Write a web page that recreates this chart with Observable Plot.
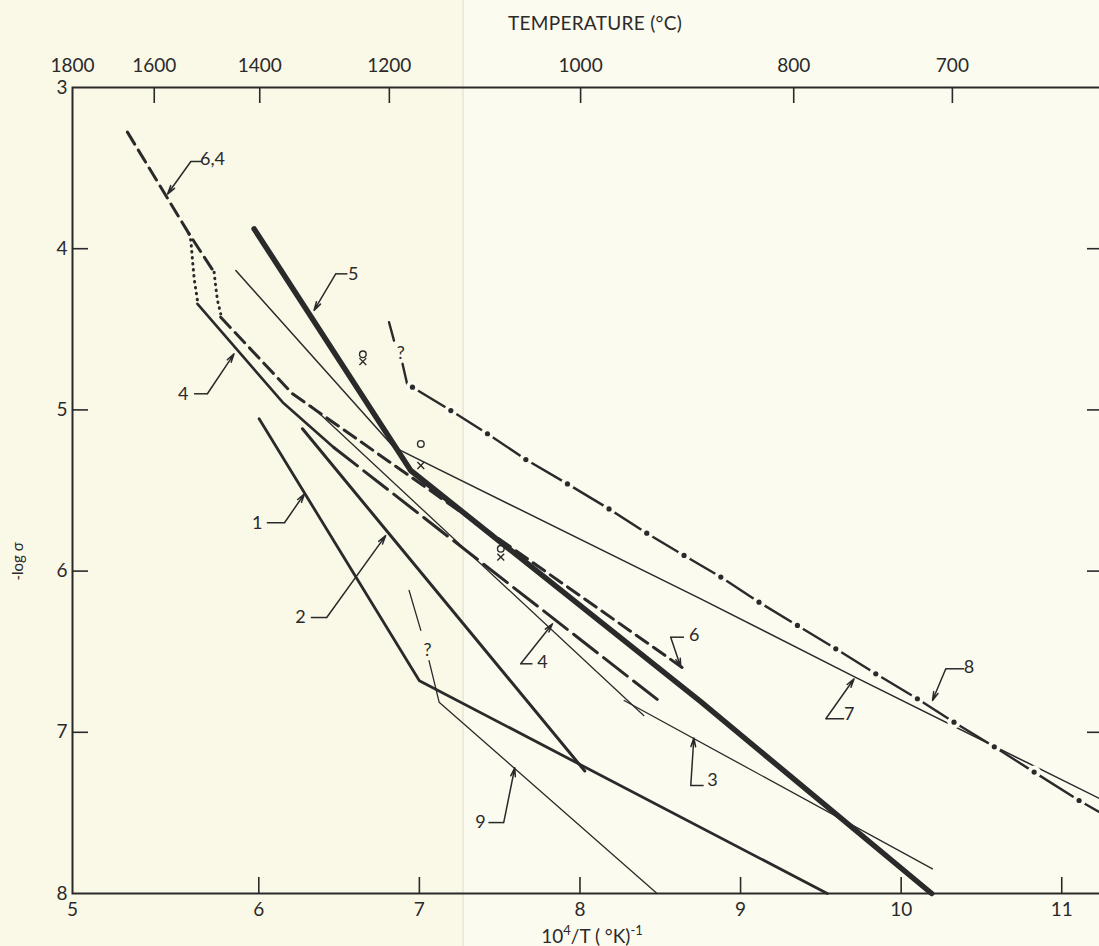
<!DOCTYPE html>
<html><head><meta charset="utf-8">
<script src="https://cdn.jsdelivr.net/npm/d3@7"></script>
<script src="https://cdn.jsdelivr.net/npm/@observablehq/plot@0.6"></script>
<style>
html,body{margin:0;padding:0;overflow:hidden;width:1099px;height:946px;}
body{background:linear-gradient(to right,#faf8e7 0,#faf8e7 462px,#eeeadb 462px,#eeeadb 464px,#fcfbf0 464px);}
#chart svg{display:block;}
</style></head>
<body><div id="chart"></div>
<script>
// ---------- axis ticks / labels ----------
const xTickVals = [6, 7, 8, 9, 10, 11];
const xLabelText = ["5", "6", "7", "8", "9", "10", "11"];
const xLabelPos = [4.84, 6, 7, 8, 9, 10, 11];
const yTickVals = [4, 5, 6, 7];
const yLabelVals = [3, 4, 5, 6, 7, 8];
const tempLabels = ["1800", "1600", "1400", "1200", "1000", "800", "700"];
const tempPos = [4.84, 5.349, 6.006, 6.813, 8.004, 9.331, 10.319];

// ---------- curves (10^4/T , -log sigma) ----------
const line64 = [[5.182,3.277],[5.566,3.908],[5.722,4.146]];
const line6Dot = [[5.722,4.146],[5.732,4.238],[5.743,4.321],[5.763,4.404]];
const line6 = [[5.763,4.425],[6.21,4.9],[8.648,6.606]];
const line4Dot = [[5.566,3.908],[5.577,3.95],[5.587,4.07],[5.598,4.19],[5.618,4.321]];
const line4Solid = [[5.618,4.342],[6.148,4.952],[6.467,5.233]];
const line4Dash = [[6.467,5.233],[8.503,6.813]];
const line5 = [[5.971,3.877],[6.946,5.376],[8.752,6.81],[10.19,8.0]];
const line1 = [[6.002,5.055],[7.0,6.68],[9.54,8.0]];
const line2 = [[6.272,5.117],[8.03,7.24]];
const line3a = [[6.324,4.973],[8.397,6.896]];
const line3b = [[8.275,6.803],[10.195,7.847]];
const line7 = [[5.857,4.135],[6.841,5.231],[8.752,6.172],[9.707,6.655],[11.26,7.423]];
const line9a = [[6.936,6.12],[7.009,6.368]];
const line9b = [[7.06,6.555],[7.123,6.813],[8.48,8.0]];
const line8a = [[6.811,4.456],[6.842,4.57]];
const line8b = [[6.895,4.714],[6.926,4.849]];
const line8DotX = [6.957,7.196,7.424,7.663,7.922,8.181,8.416,8.648,8.877,9.115,9.354,9.593,9.842,10.101,10.329,10.58,10.828,11.108];
const line8DotY = [4.859,5.004,5.148,5.308,5.459,5.614,5.765,5.903,6.037,6.193,6.337,6.482,6.637,6.792,6.937,7.09,7.247,7.423];
const line8End = [[6.926,4.849],[11.26,7.51]];

// ---------- point symbols ----------
const markO = [[6.648,4.655],[7.009,5.211],[7.507,5.862]];
const markX = [[6.648,4.70],[7.009,5.345],[7.507,5.913]];
const queries = [[6.884,4.65],[7.05,6.493]];

// ---------- curve labels with leaders ----------
const labelText = ["6,4","5","4","1","2","9","4","6","3","7","8"];
const labelX = [5.712,6.588,5.53,5.99,6.26,7.38,7.766,8.711,8.825,9.676,10.423];
const labelY = [3.447,4.157,4.905,5.70,6.288,7.56,6.565,6.40,7.30,6.885,6.596];
const labelAnchor = ["start","middle","middle","middle","middle","middle","middle","middle","middle","middle","middle"];
const stubs = [
  [5.649,3.459,5.577,3.459],[6.552,4.156,6.479,4.156],[5.597,4.90,5.68,4.90],
  [6.05,5.70,6.16,5.70],[6.324,6.288,6.423,6.288],[7.43,7.56,7.525,7.56],
  [7.631,6.575,7.704,6.575],[8.648,6.41,8.565,6.41],[8.69,7.33,8.77,7.33],
  [9.531,6.916,9.645,6.916],[10.392,6.606,10.278,6.606]
];
const arrows = [
  [5.577,3.459,5.432,3.661],[6.479,4.156,6.344,4.383],[5.68,4.90,5.846,4.652],
  [6.16,5.70,6.285,5.52],[6.423,6.288,6.79,5.78],[7.525,7.56,7.594,7.22],
  [7.631,6.575,7.829,6.327],[8.565,6.41,8.628,6.596],[8.69,7.33,8.709,7.035],
  [9.531,6.916,9.707,6.668],[10.278,6.606,10.195,6.803]
];

const C = "#2a2a2a";
const BG = "#fcfbf0";
const W = 1103, H = 946, mL = 72, mR = 0, mT = 87, mB = 53;
const pw = W - mL - mR, ph = H - mT - mB;

const L = (data, opts) => Plot.line(data, {x: d => d[0], y: d => d[1], stroke: C, strokeLinejoin: "round", ...opts});
const dots8 = line8DotX.map((x, i) => [x, line8DotY[i]]);
const line8 = [line8End[0], ...dots8, line8End[1]];
const labels = labelText.map((t, i) => ({t, x: labelX[i], y: labelY[i], a: labelAnchor[i]}));

const chart = Plot.plot({
  width: W, height: H,
  marginLeft: mL, marginRight: mR, marginTop: mT, marginBottom: mB,
  x: {domain: [4.84, 11.26], axis: null},
  y: {domain: [3, 8], reverse: true, axis: null},
  style: {background: "transparent", maxWidth: "none", fontFamily: "Lato, 'Open Sans', sans-serif", color: C},
  marks: [
    Plot.frame({stroke: C, strokeWidth: 2}),
    // inward ticks
    Plot.ruleX(xTickVals, {x: d => d, insetTop: ph - 16, stroke: C, strokeWidth: 1.6}),
    Plot.ruleX(tempPos.slice(1), {x: d => d, insetBottom: ph - 16, stroke: C, strokeWidth: 1.6}),
    Plot.ruleY(yTickVals, {y: d => d, insetRight: pw - 16, stroke: C, strokeWidth: 1.6}),
    Plot.ruleY(yTickVals, {y: d => d, insetLeft: pw - 16, stroke: C, strokeWidth: 1.6}),
    // tick labels
    Plot.text(xLabelPos.map((p, i) => ({p, t: xLabelText[i]})), {x: "p", text: "t", frameAnchor: "bottom", lineAnchor: "top", dy: 9, fontSize: 19, fill: C}),
    Plot.text(yLabelVals, {y: d => d, text: d => String(d), frameAnchor: "left", textAnchor: "end", dx: -5, fontSize: 19, fill: C}),
    Plot.text(tempPos.map((p, i) => ({p, t: tempLabels[i]})), {x: "p", text: "t", frameAnchor: "top", lineAnchor: "bottom", dy: -16, fontSize: 19, fill: C}),
    // axis titles
    Plot.text(["TEMPERATURE (°C)"], {frameAnchor: "top", lineAnchor: "bottom", dy: -58, dx: 7, fontSize: 19, fill: C, className: "ttl"}),
    Plot.text(["10⁴/T ( °K)⁻¹"], {frameAnchor: "bottom", lineAnchor: "bottom", dy: 49, dx: 4, fontSize: 19, fill: C, className: "xlab"}),
    Plot.text(["-log σ"], {frameAnchor: "left", rotate: -90, dx: -54, dy: 90, fontSize: 15, fill: C}),
    // curves
    L(line64, {strokeWidth: 3, strokeDasharray: "14,7"}),
    L(line6Dot, {strokeWidth: 3, strokeDasharray: "0.5,5.5", strokeLinecap: "round"}),
    L(line6, {strokeWidth: 3, strokeDasharray: "14,7"}),
    L(line4Dot, {strokeWidth: 3, strokeDasharray: "0.5,5.5", strokeLinecap: "round"}),
    L(line4Solid, {strokeWidth: 2.6}),
    L(line4Dash, {strokeWidth: 3, strokeDasharray: "30,8"}),
    L(line5, {strokeWidth: 5.5}),
    L(line1, {strokeWidth: 2.8}),
    L(line2, {strokeWidth: 3}),
    L(line3a, {strokeWidth: 1.3}),
    L(line3b, {strokeWidth: 1.3}),
    L(line7, {strokeWidth: 1.5}),
    L(line9a, {strokeWidth: 1.3}),
    L(line9b, {strokeWidth: 1.3}),
    L(line8a, {strokeWidth: 2.4}),
    L(line8b, {strokeWidth: 2.4}),
    L(line8, {strokeWidth: 2.4}),
    Plot.dot(dots8, {x: d => d[0], y: d => d[1], r: 2.6, fill: C, stroke: BG, strokeWidth: 8, paintOrder: "stroke"}),
    // point symbols
    Plot.dot(markO, {x: d => d[0], y: d => d[1], r: 3.3, stroke: C, strokeWidth: 1.4, fill: "none"}),
    Plot.dot(markX, {x: d => d[0], y: d => d[1], symbol: "times", r: 3.2, stroke: C, strokeWidth: 1.4}),
    Plot.text(queries, {x: d => d[0], y: d => d[1], text: () => "?", fontSize: 18, fill: C}),
    // labels and leaders
    Plot.link(stubs, {x1: d => d[0], y1: d => d[1], x2: d => d[2], y2: d => d[3], stroke: C, strokeWidth: 1.5}),
    Plot.arrow(arrows, {x1: d => d[0], y1: d => d[1], x2: d => d[2], y2: d => d[3], stroke: C, strokeWidth: 1.5, headLength: 9, headAngle: 30}),
    Plot.text(labels, {x: "x", y: "y", text: "t", textAnchor: d => d.a, fontSize: 18, fill: C})
  ]
});
document.getElementById("chart").append(chart);

// typeset the x-axis title with raised exponents (still real text)
const xl = chart.querySelector(".xlab text");
if (xl) {
  xl.textContent = "";
  const parts = [["10", 0, null], ["4", -8, 13], ["/T ( °K)", 8, null], ["-1", -8, 13]];
  for (const [t, dy, fs] of parts) {
    const ts = document.createElementNS("http://www.w3.org/2000/svg", "tspan");
    ts.textContent = t;
    if (dy) ts.setAttribute("dy", dy);
    if (fs) ts.setAttribute("font-size", fs);
    xl.appendChild(ts);
  }
}
const tl = chart.querySelector(".ttl text");
if (tl) tl.setAttribute("letter-spacing", "0.3");
</script></body></html>
